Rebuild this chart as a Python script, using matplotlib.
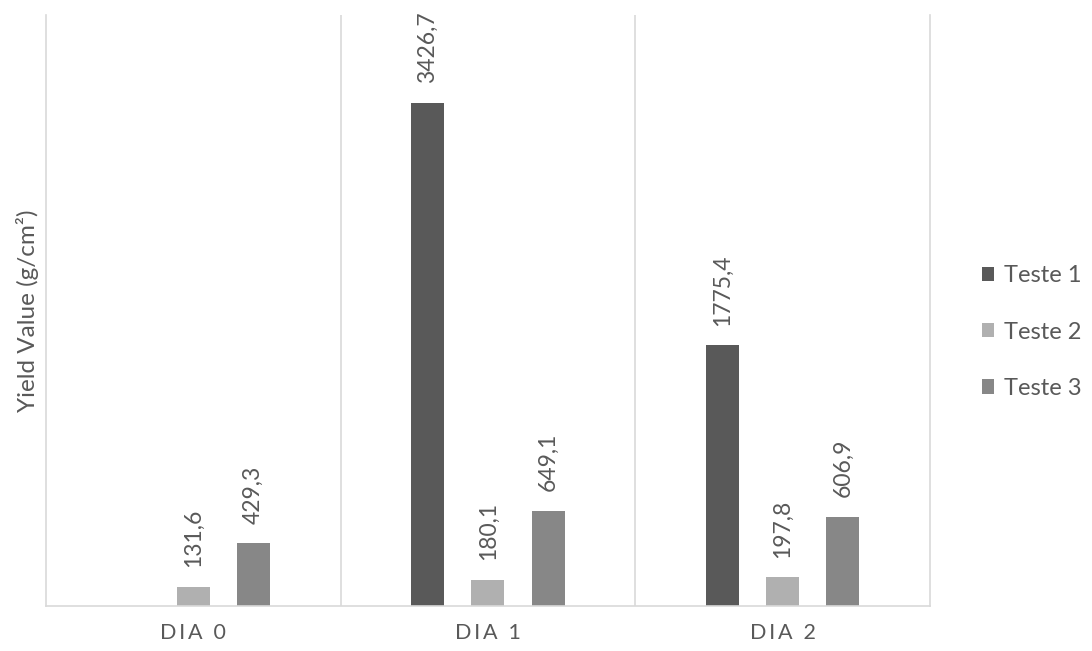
import matplotlib
matplotlib.use("Agg")
import matplotlib.pyplot as plt
import numpy as np

categories = ["DIA 0", "DIA 1", "DIA 2"]
series = ["Teste 1", "Teste 2", "Teste 3"]
teste1 = [np.nan, 3426.7, 1775.4]
teste2 = [131.6, 180.1, 197.8]
teste3 = [429.3, 649.1, 606.9]
colors = ["#595959", "#b0b0b0", "#878787"]

plt.rcParams['font.family'] = ['Lato', 'DejaVu Sans']

fig = plt.figure(figsize=(10.92, 6.51), dpi=100)
ax = fig.add_axes([0.0421, 0.0691, 0.8095, 0.908])

x = np.arange(len(categories))
width = 0.112
offsets = [-0.204, 0.0, 0.204]
for vals, name, col, off in zip([teste1, teste2, teste3], series, colors, offsets):
    ax.bar(x + off, vals, width, color=col, label=name)
    for xi, v in zip(x + off, vals):
        if np.isnan(v):
            continue
        ax.annotate(f"{v:.1f}".replace(".", ","), (xi, v), xytext=(0, 14),
                    textcoords="offset points", rotation=90, ha="center",
                    va="bottom", fontsize=16.5, color="#595959")

ax.set_xlim(-0.5, 2.5)
ax.set_ylim(0, 4026)
ax.set_yticks([])
ax.set_xticks(x)
ax.set_xticklabels(["\u2009".join(c) for c in categories], fontsize=15.5,
                   color="#595959")
ax.tick_params(axis="x", length=0, pad=12)
for xs in [0.5, 1.5]:
    ax.axvline(xs, color="#d9d9d9", lw=1.2)
for s in ["left", "bottom", "right"]:
    ax.spines[s].set_color("#d9d9d9")
    ax.spines[s].set_linewidth(1.2)
ax.spines["top"].set_visible(False)
ax.set_ylabel("Yield Value (g/cm\u00b2)", fontsize=17.5, color="#595959", labelpad=5)

fig.legend(loc="center left", bbox_to_anchor=(0.888, 0.49), frameon=False,
           fontsize=17, labelcolor="#595959", handlelength=0.55, handleheight=0.55,
           handletextpad=0.4, labelspacing=1.5, borderpad=0)

fig.savefig("out.png", dpi=100)
